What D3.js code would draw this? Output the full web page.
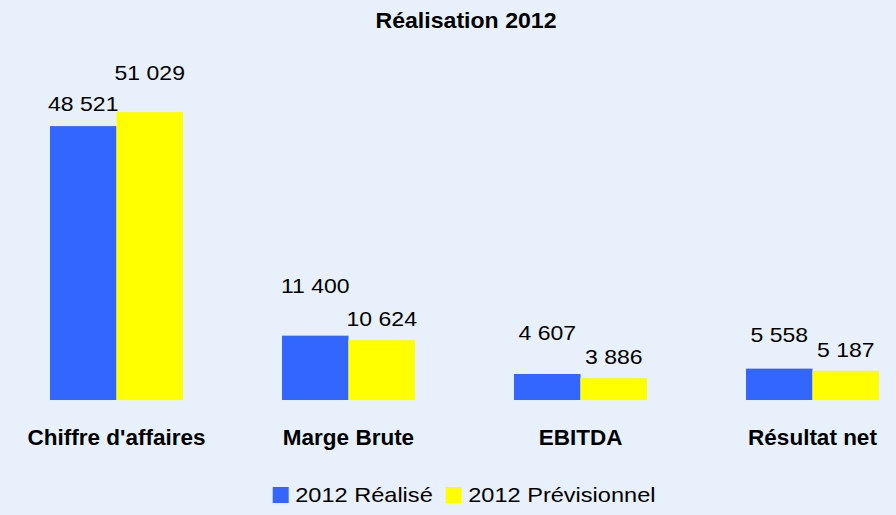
<!DOCTYPE html>
<html><head><meta charset="utf-8">
<script src="https://cdn.jsdelivr.net/npm/d3@7"></script>
<style>html,body{margin:0;padding:0;background:#e8f1fb;}svg{display:block;font-family:Arial,"Liberation Sans",sans-serif;}</style>
</head><body>
<svg id="c" width="896" height="515"></svg>
<script>
const categories = ["Chiffre d'affaires", "Marge Brute", "EBITDA", "Résultat net"];
const seriesNames = ["2012 Réalisé", "2012 Prévisionnel"];
const realise = [48521, 11400, 4607, 5558];
const previsionnel = [51029, 10624, 3886, 5187];
const colors = ["#3366ff", "#ffff00"];
// manual label lift above bar tops (layout, not data)
const liftRealise = [15, 43, 34, 27];
const liftPrev = [32, 14, 14, 14];

const fmt = v => d3.format(",")(v).replace(/,/g, " ");
const svg = d3.select("#c");
svg.append("rect").attr("width", 896).attr("height", 515).attr("fill", "#e8f1fb");

const x0 = d3.scaleBand().domain(categories).range([0.5, 928.5]).padding(0);
const x1 = d3.scaleBand().domain(seriesNames).range([(232 - 133) / 2, (232 + 133) / 2]).padding(0);
const y = d3.scaleLinear().domain([0, 60000]).range([400, 61.3]);

const series = [realise, previsionnel];
const lifts = [liftRealise, liftPrev];
const sx = 1.15;

series.forEach((vals, s) => {
  const g = svg.append("g");
  g.selectAll("rect").data(vals).join("rect")
    .attr("x", (d, i) => x0(categories[i]) + x1(seriesNames[s]))
    .attr("y", d => y(d))
    .attr("width", x1.bandwidth())
    .attr("height", d => y(0) - y(d))
    .attr("fill", colors[s]);
  g.selectAll("text").data(vals).join("text")
    .attr("transform", (d, i) => `translate(${x0(categories[i]) + x1(seriesNames[s]) + x1.bandwidth() / 2},${y(d) - lifts[s][i]}) scale(${sx},1)`)
    .attr("text-anchor", "middle")
    .attr("font-size", 20)
    .attr("fill", "#000")
    .text(d => fmt(d));
});

// category labels
svg.append("g").selectAll("text").data(categories).join("text")
  .attr("x", d => x0(d) + x0.bandwidth() / 2)
  .attr("y", 445)
  .attr("text-anchor", "middle")
  .attr("font-size", 22.5)
  .attr("font-weight", "bold")
  .text(d => d);

// title
svg.append("text")
  .attr("transform", "translate(466,28) scale(1.06,1)")
  .attr("text-anchor", "middle")
  .attr("font-size", 21.8)
  .attr("font-weight", "bold")
  .text("Réalisation 2012");

// legend
const legX = [272.7, 445.7];
const lg = svg.append("g");
seriesNames.forEach((n, i) => {
  lg.append("rect").attr("x", legX[i]).attr("y", 487).attr("width", 16).attr("height", 16).attr("fill", colors[i]);
  lg.append("text")
    .attr("transform", `translate(${legX[i] + 22.5},${502}) scale(${sx},1)`)
    .attr("font-size", 20.5)
    .text(n);
});
</script>
</body></html>
